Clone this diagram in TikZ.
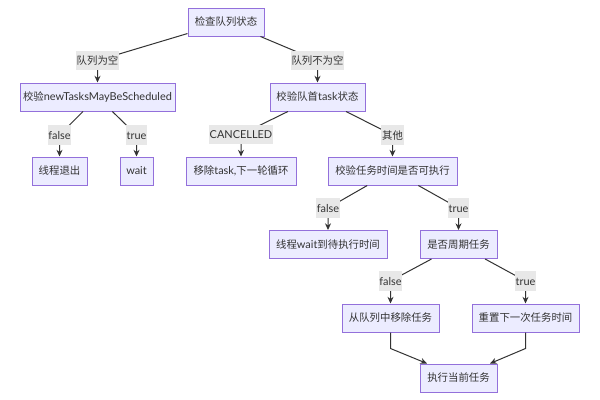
\documentclass[tikz,border=0pt]{standalone}
\usepackage{fontspec}
\setmainfont{Noto Sans CJK SC}
\newfontfamily\lat{Lato}
\usetikzlibrary{arrows.meta,calc}
\definecolor{boxfill}{HTML}{ECECFF}
\definecolor{boxdraw}{HTML}{9370DB}
\definecolor{edgec}{HTML}{333333}
\definecolor{lblfill}{HTML}{E8E8E8}
\begin{document}
\begin{tikzpicture}[x=0.75pt,y=-0.75pt,
  box/.style={draw=boxdraw, fill=boxfill, line width=0.75pt, minimum height=21pt,
    inner sep=0pt, font=\fontsize{7.8}{9}\selectfont, text=edgec},
  lbl/.style={fill=lblfill, inner xsep=0.6pt, inner ysep=1.6pt, text height=0.88em, text depth=0.24em,
    font=\fontsize{7.8}{9}\selectfont, text=edgec},
  link/.style={draw=edgec, line width=0.75pt},
  arr/.style={link, -{Stealth[length=5pt,width=4.5pt]}}]
\useasboundingbox (0,0) rectangle (600,400);
\fill[white] (0,0) rectangle (600,400);

% nodes
\node[box, minimum width=57pt]    (n1)  at (226,22)    {检查队列状态};
\node[box, minimum width=116.25pt](n2)  at (97.5,97)   {校验{\lat\fontsize{8.2}{9}\selectfont newTasksMayBeScheduled}};
\node[box, minimum width=71.25pt] (n3)  at (317.5,97)  {校验队首{\lat\fontsize{8.2}{9}\selectfont task}状态};
\node[box, minimum width=41.25pt] (n4)  at (59.5,171)  {线程退出};
\node[box, minimum width=24.75pt] (n5)  at (136.5,171) {{\lat\fontsize{8.2}{9}\selectfont wait}};
\node[box, minimum width=82.5pt]  (n6)  at (241,171)   {移除{\lat\fontsize{8.2}{9}\selectfont task,}下一轮循环};
\node[box, minimum width=96.75pt] (n7)  at (392.5,171) {校验任务时间是否可执行};
\node[box, minimum width=88.5pt]  (n8)  at (328,244.5) {线程{\lat\fontsize{8.2}{9}\selectfont wait}到待执行时间};
\node[box, minimum width=57.75pt] (n9)  at (458.5,244.5) {是否周期任务};
\node[box, minimum width=72.75pt] (n10) at (390.5,318) {从队列中移除任务};
\node[box, minimum width=80.25pt] (n11) at (525.5,318) {重置下一次任务时间};
\node[box, minimum width=57.75pt] (n12) at (458.5,378) {执行当前任务};

% label positions
\coordinate (c1) at (97.5,60.5);
\coordinate (c2) at (317.5,60.5);
\coordinate (c3) at (59.5,135);
\coordinate (c4) at (136.5,135);
\coordinate (c5) at (241,134.5);
\coordinate (c6) at (392.5,135);
\coordinate (c7) at (328,208);
\coordinate (c8) at (458.5,208);
\coordinate (c9) at (390.5,281);
\coordinate (c10) at (525.5,281);

% edges
\draw[arr] (n1) -- (c1) -- (n2);
\draw[arr] (n1) -- (c2) -- (n3);
\draw[arr] (n2) -- (c3) -- (n4);
\draw[arr] (n2) -- (c4) -- (n5);
\draw[arr] (n3) -- (c5) -- (n6);
\draw[arr] (n3) -- (c6) -- (n7);
\draw[arr] (n7) -- (c7) -- (n8);
\draw[arr] (n7) -- (c8) -- (n9);
\draw[arr] (n9) -- (c9) -- (n10);
\draw[arr] (n9) -- (c10) -- (n11);
\draw[arr] (n10.south) -- ++(0,16) -- ($(n12.north)+(-31.5,0)$);
\draw[arr] (n11.south) -- ++(0,16) -- ($(n12.north)+(31.5,0)$);

% labels
\node[lbl] (t1) at (c1) {队列为空};
\node[lbl] (t2) at (c2) {队列不为空};
\node[lbl] (t3) at (c3) {\lat\fontsize{8.2}{9}\selectfont false};
\node[lbl] (t4) at (c4) {\lat\fontsize{8.2}{9}\selectfont true};
\node[lbl] (t5) at (c5) {\lat\fontsize{8.2}{9}\selectfont CANCELLED};
\node[lbl] (t6) at (c6) {其他};
\node[lbl] (t7) at (c7) {\lat\fontsize{8.2}{9}\selectfont false};
\node[lbl] (t8) at (c8) {\lat\fontsize{8.2}{9}\selectfont true};
\node[lbl] (t9) at (c9) {\lat\fontsize{8.2}{9}\selectfont false};
\node[lbl] (t10) at (c10) {\lat\fontsize{8.2}{9}\selectfont true};
\end{tikzpicture}
\end{document}
